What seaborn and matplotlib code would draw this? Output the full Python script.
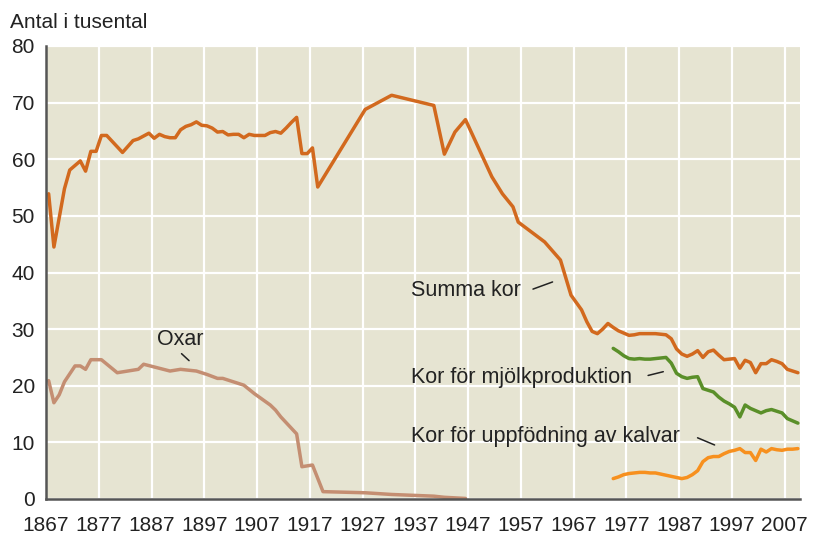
import numpy as np
import pandas as pd
import matplotlib
matplotlib.use('Agg')
import matplotlib.pyplot as plt
import seaborn as sns

# data (tusental djur)
ar_summa = [1867, 1868, 1870, 1871, 1872, 1873, 1874, 1875, 1876, 1877, 1878, 1881, 1883, 1884,
            1886, 1887, 1888, 1889, 1890, 1891, 1892, 1893, 1894, 1895, 1896, 1897, 1898, 1899,
            1900, 1901, 1902, 1903, 1904, 1905, 1906, 1907, 1908, 1909, 1910, 1911, 1912, 1913,
            1914, 1915, 1916, 1917, 1918, 1927, 1932, 1940, 1942, 1944, 1946, 1951, 1953, 1955,
            1956, 1961, 1964, 1966, 1968] + list(range(1969, 2010))
summa_kor = [53.9, 44.5, 54.8, 58.1, 58.9, 59.7, 57.9, 61.4, 61.4, 64.2, 64.2, 61.2, 63.3, 63.6,
             64.6, 63.7, 64.4, 64.0, 63.8, 63.8, 65.2, 65.8, 66.1, 66.6, 66.0, 65.9, 65.5, 64.8,
             64.9, 64.3, 64.4, 64.4, 63.8, 64.4, 64.2, 64.2, 64.2, 64.7, 64.9, 64.6, 65.5, 66.5,
             67.4, 61.0, 61.0, 62.0, 55.1, 68.8, 71.3, 69.5, 60.9, 64.8, 67.0, 56.9, 53.9, 51.6,
             48.9, 45.4, 42.2, 36.0, 33.4,
             31.3, 29.6, 29.2, 30.0, 31.0, 30.3, 29.7, 29.3, 28.9, 29.0, 29.2, 29.2, 29.2, 29.2,
             29.1, 29.0, 28.3, 26.5, 25.6, 25.2, 25.6, 26.2, 25.0, 26.0, 26.3, 25.4, 24.6, 24.7,
             24.8, 23.1, 24.5, 24.1, 22.3, 23.9, 23.9, 24.6, 24.3, 23.9, 22.9, 22.6, 22.3]

ar_oxar = [1867, 1868, 1869, 1870, 1872, 1873, 1874, 1875, 1876, 1877, 1880, 1884, 1885, 1890,
           1892, 1895, 1897, 1899, 1900, 1902, 1904, 1906, 1909, 1910, 1911, 1913, 1914, 1915,
           1917, 1919, 1927, 1932, 1940, 1942, 1944, 1946]
oxar = [20.9, 17.0, 18.4, 20.7, 23.5, 23.5, 22.9, 24.6, 24.6, 24.6, 22.3, 22.9, 23.8, 22.6,
        22.9, 22.6, 22.0, 21.3, 21.3, 20.7, 20.1, 18.6, 16.6, 15.7, 14.5, 12.5, 11.5, 5.7,
        6.0, 1.3, 1.1, 0.8, 0.5, 0.3, 0.2, 0.1]

ar_ny = list(range(1974, 2010))
mjolk = [26.6, 26.0, 25.3, 24.8, 24.7, 24.8, 24.7, 24.7, 24.8, 24.9, 25.0, 24.0, 22.2, 21.6,
         21.3, 21.5, 21.6, 19.5, 19.2, 18.9, 18.0, 17.3, 16.8, 16.2, 14.5, 16.6, 16.0, 15.6,
         15.2, 15.6, 15.8, 15.5, 15.2, 14.2, 13.8, 13.4]
kalvar = [3.6, 3.9, 4.3, 4.5, 4.6, 4.7, 4.7, 4.6, 4.6, 4.4, 4.2, 4.0, 3.8, 3.6,
          3.8, 4.3, 5.0, 6.6, 7.3, 7.5, 7.5, 8.0, 8.4, 8.6, 8.9, 8.2, 8.2, 6.8,
          8.8, 8.3, 8.9, 8.7, 8.6, 8.8, 8.8, 8.9]

serier = ['Summa kor', 'Oxar', 'Kor för mjölkproduktion', 'Kor för uppfödning av kalvar']
farger = ['#D2691E', '#C48E72', '#5A8F29', '#F7901E']
tick_ar = list(range(1867, 2008, 10))

df = pd.concat([
    pd.DataFrame({'år': ar_summa, 'antal': summa_kor, 'serie': serier[0]}),
    pd.DataFrame({'år': ar_oxar, 'antal': oxar, 'serie': serier[1]}),
    pd.DataFrame({'år': ar_ny, 'antal': mjolk, 'serie': serier[2]}),
    pd.DataFrame({'år': ar_ny, 'antal': kalvar, 'serie': serier[3]}),
])

sns.set_style('darkgrid', {'axes.facecolor': '#E6E4D2', 'grid.color': 'white'})
plt.rcParams['font.family'] = ['Liberation Sans', 'DejaVu Sans']

fig = plt.figure(figsize=(8.14, 5.36), dpi=100)
ax = fig.add_axes([46 / 814, 37 / 536, 754 / 814, 453 / 536])

sns.lineplot(data=df, x='år', y='antal', hue='serie', hue_order=serier,
             palette=dict(zip(serier, farger)), linewidth=2.5, legend=False, ax=ax)

# grid och axlar
ax.grid(True, color='white', linewidth=1.6)
ax.set_axisbelow(True)
ax.set_xlim(1866.5, 2009.4)
ax.set_ylim(0, 80)
ax.set_xticks([a - 0.5 for a in tick_ar])
ax.set_xticklabels([str(a) for a in tick_ar])
ax.set_yticks(range(0, 81, 10))
ax.tick_params(axis='both', labelsize=15, colors='#222222', length=6, width=1.3,
               color='#555555', pad=2)
ax.tick_params(axis='x', pad=6)
for s in ['top', 'right']:
    ax.spines[s].set_visible(False)
for s in ['left', 'bottom']:
    ax.spines[s].set_visible(True)
    ax.spines[s].set_color('#555555')
    ax.spines[s].set_linewidth(1.8)
ax.set_xlabel('')
ax.set_ylabel('')

fig.text(10 / 814, 1 - 22 / 536, 'Antal i tusental', fontsize=15, va='center', ha='left',
         color='#222222')

# etiketter med streck
txt = dict(fontsize=15.5, color='#222222', va='center', ha='left')
linje = dict(arrowstyle='-', lw=1.1, color='#222222')
ax.text(1935.6, 36.9, 'Summa kor', **txt)
ax.annotate('', xy=(1963.0, 38.5), xytext=(1958.3, 36.9), arrowprops=linje)
ax.text(1887.5, 28.1, 'Oxar', **txt)
ax.annotate('', xy=(1894.0, 24.1), xytext=(1891.8, 26.0), arrowprops=linje)
ax.text(1935.6, 21.5, 'Kor för mjölkproduktion', **txt)
ax.annotate('', xy=(1984.0, 22.6), xytext=(1980.1, 21.7), arrowprops=linje)
ax.text(1935.6, 11.1, 'Kor för uppfödning av kalvar', **txt)
ax.annotate('', xy=(1993.7, 9.35), xytext=(1989.5, 11.0), arrowprops=linje)

fig.savefig('out.png', dpi=100)
